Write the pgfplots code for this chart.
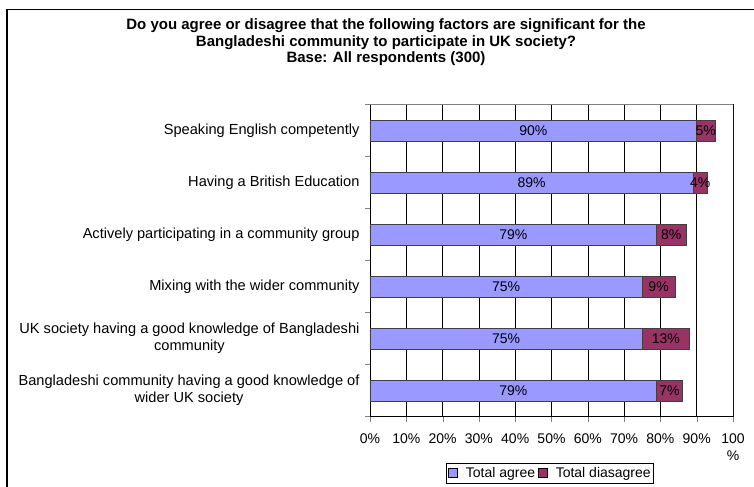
\documentclass[border=0pt]{standalone}
\usepackage{pgfplots}
\pgfplotsset{compat=1.18}
\usepackage{fontspec}
\setmainfont{Liberation Sans}
\definecolor{agree}{HTML}{9999FF}
\definecolor{disagree}{HTML}{993366}
\newcommand{\lbl}{\fontsize{14bp}{17bp}\selectfont}
\newcommand{\cat}{\fontsize{14.6bp}{17bp}\selectfont}
\begin{document}
\begin{tikzpicture}
\useasboundingbox (0,0) rectangle (754bp,-487bp);
\clip (0,0) rectangle (754bp,-487bp);
\draw[line width=1.2bp] (7bp,-600bp) -- (7bp,-9.5bp) -- (800bp,-9.5bp);
\node[font=\fontsize{15bp}{16.5bp}\selectfont\bfseries, align=center] at (386bp,-42.5bp)
  {Do you agree or disagree that the following factors are significant for the\\
   Bangladeshi community to participate in UK society?\\
   Base: All respondents (300)};
\begin{axis}[
  at={(370bp,-416.5bp)}, anchor=south west,
  scale only axis, width=363bp, height=312bp,
  xbar stacked, bar width=21bp,
  xmin=0, xmax=100, ymin=-0.5, ymax=5.5, y dir=reverse,
  /pgf/number format/assume math mode=true,
  tick pos=left, tick align=outside,
  major tick length=5bp,
  axis line style={line width=0.8bp},
  xmajorgrids, grid style={black, line width=0.6bp},
  xtick={0,10,...,100},
  xticklabels={0\%,10\%,20\%,30\%,40\%,50\%,60\%,70\%,80\%,90\%,{100\\\%}},
  xticklabel style={align=center, font=\lbl, yshift=-9bp},
  ytick={-0.5,0.5,...,5.5},
  yticklabels={},
  extra y ticks={0,1,2,3,4,5},
  extra y tick labels={Speaking English competently,
    Having a British Education,
    Actively participating in a community group,
    Mixing with the wider community,
    {UK society having a good knowledge of Bangladeshi\\community},
    {Bangladeshi community having a good knowledge of\\wider UK society}},
  extra y tick style={major tick length=0pt, yticklabel style={align=center, font=\cat, xshift=-7bp}},
  point meta=explicit,
  nodes near coords={\pgfmathprintnumber{\pgfplotspointmeta}\%},
  every node near coord/.append style={anchor=center, font=\lbl},
  legend columns=2,
  legend style={at={(0.4945,0)}, yshift=-46.5bp, anchor=north, draw=black, font=\lbl,
    inner xsep=1bp, inner ysep=2bp, nodes={inner xsep=1.5bp},
    /tikz/every odd column/.append style={column sep=5bp}},
  legend image code/.code={\draw[#1, draw=black, line width=0.5bp] (0bp,-4.5bp) rectangle (9bp,4.5bp);
    \path (-1bp,0bp) (11bp,0bp);},
]
\addplot[fill=agree, draw=black!75, line width=0.6bp] coordinates {
  (90,0) [90] (89,1) [89] (79,2) [79] (75,3) [75] (75,4) [75] (79,5) [79]};
\addplot[fill=disagree, draw=black!75, line width=0.6bp] coordinates {
  (5,0) [5] (4,1) [4] (8,2) [8] (9,3) [9] (13,4) [13] (7,5) [7]};
\legend{Total agree, Total diasagree}
\draw[gray, line width=0.8bp] (axis cs:0,-0.5) -- (axis cs:100,-0.5) -- (axis cs:100,5.5);
\end{axis}
\end{tikzpicture}
\end{document}
